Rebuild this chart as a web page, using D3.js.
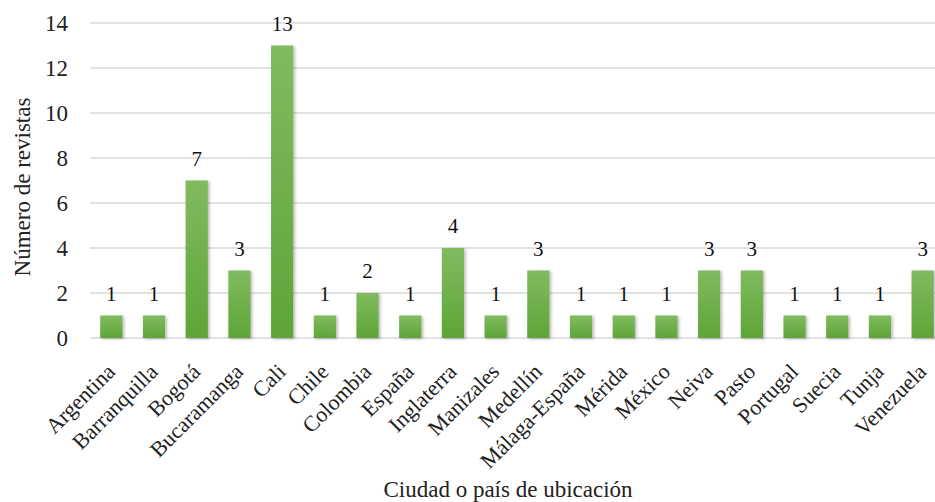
<!DOCTYPE html>
<html lang="es">
<head>
<meta charset="utf-8">
<script src="https://d3js.org/d3.v7.min.js"></script>
<style>
  html, body { margin: 0; padding: 0; background: #fff; }
  svg { display: block; font-family: "Liberation Serif", "Times New Roman", serif; }
</style>
</head>
<body>
<svg id="chart"></svg>
<script>
// data
const categories = ["Argentina", "Barranquilla", "Bogotá", "Bucaramanga", "Cali", "Chile", "Colombia",
  "España", "Inglaterra", "Manizales", "Medellín", "Málaga-España", "Mérida", "México", "Neiva",
  "Pasto", "Portugal", "Suecia", "Tunja", "Venezuela"];
const values = [1, 1, 7, 3, 13, 1, 2, 1, 4, 1, 3, 1, 1, 1, 3, 3, 1, 1, 1, 3];
const yTicks = [0, 2, 4, 6, 8, 10, 12, 14];

const width = 935, height = 502;
const margin = { top: 23, right: -9, bottom: 164, left: 90 };
const serif = "'Liberation Serif', 'Times New Roman', serif";

const svg = d3.select("#chart").attr("width", width).attr("height", height);

const defs = svg.append("defs");
const grad = defs.append("linearGradient")
  .attr("id", "barGrad").attr("x1", 0).attr("y1", 0).attr("x2", 0).attr("y2", 1);
grad.append("stop").attr("offset", "0%").attr("stop-color", "#80bb60");
grad.append("stop").attr("offset", "100%").attr("stop-color", "#5ea537");

const shadow = defs.append("filter").attr("id", "shadow")
  .attr("x", "-50%").attr("y", "-10%").attr("width", "200%").attr("height", "120%");
shadow.append("feDropShadow")
  .attr("dx", 1.5).attr("dy", 1).attr("stdDeviation", 1.5)
  .attr("flood-color", "#000").attr("flood-opacity", 0.3);

const x = d3.scaleBand()
  .domain(categories)
  .range([margin.left, width - margin.right])
  .paddingInner(0.48).paddingOuter(0.24);

const y = d3.scaleLinear()
  .domain([0, 14])
  .range([height - margin.bottom, margin.top]);

// gridlines
svg.append("g")
  .selectAll("line")
  .data(yTicks)
  .join("line")
  .attr("x1", margin.left).attr("x2", width)
  .attr("y1", d => y(d)).attr("y2", d => y(d))
  .attr("stroke", "#d9d9d9").attr("stroke-width", 1.5);

// y axis
const yAxis = svg.append("g")
  .attr("transform", `translate(${margin.left - 10},0)`)
  .call(d3.axisLeft(y).tickValues(yTicks).tickSize(0).tickPadding(12));
yAxis.attr("font-family", serif).attr("font-size", 23);
yAxis.select(".domain").remove();
yAxis.selectAll("text").attr("fill", "#222");

// bars
svg.append("g")
  .selectAll("rect")
  .data(values)
  .join("rect")
  .attr("x", (d, i) => x(categories[i]))
  .attr("y", d => y(d))
  .attr("width", x.bandwidth())
  .attr("height", d => y(0) - y(d))
  .attr("fill", "url(#barGrad)")
  .attr("filter", "url(#shadow)");

// value labels
svg.append("g")
  .selectAll("text")
  .data(values)
  .join("text")
  .attr("x", (d, i) => x(categories[i]) + x.bandwidth() / 2)
  .attr("y", d => y(d) - 15)
  .attr("text-anchor", "middle")
  .attr("font-size", 21).attr("fill", "#111")
  .text(d => d);

// x axis
const xAxis = svg.append("g")
  .attr("transform", `translate(0,${y(0)})`)
  .call(d3.axisBottom(x).tickSize(0).tickPadding(0));
xAxis.attr("font-family", serif).attr("font-size", 22);
xAxis.select(".domain").remove();
xAxis.selectAll("text")
  .attr("fill", "#222")
  .attr("text-anchor", "end")
  .attr("dy", 0)
  .attr("transform", "translate(5,35) rotate(-45)");

// axis titles
svg.append("text")
  .attr("transform", "translate(30,187) rotate(-90)")
  .attr("text-anchor", "middle")
  .attr("font-size", 23).attr("fill", "#222")
  .text("Número de revistas");

svg.append("text")
  .attr("x", 508).attr("y", 497)
  .attr("text-anchor", "middle")
  .attr("font-size", 23).attr("fill", "#222")
  .text("Ciudad o país de ubicación");
</script>
</body>
</html>
